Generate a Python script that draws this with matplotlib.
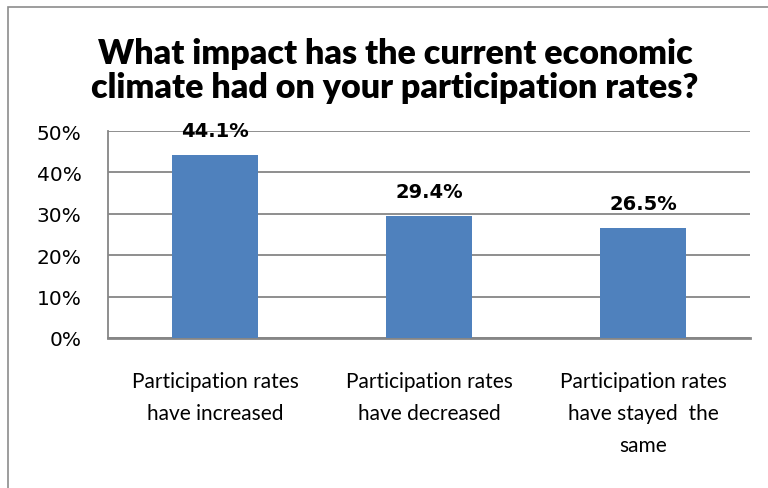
import matplotlib.pyplot as plt
from matplotlib.patches import Rectangle
from matplotlib.ticker import PercentFormatter

categorias = ["Participation rates\nhave increased",
              "Participation rates\nhave decreased",
              "Participation rates\nhave stayed  the\nsame"]
valores = [44.1, 29.4, 26.5]
ticks_y = [0, 10, 20, 30, 40, 50]

fuente = ['Lato', 'DejaVu Sans']

fig = plt.figure(figsize=(7.68, 4.89), dpi=100)
ax = fig.add_axes([108/768, 1 - 339/489, 642/768, 207/489])

# borde del grafico (recortado a la derecha y abajo)
fig.patches.append(Rectangle((8/768, -0.1), 1.0, 1 - 8/489 + 0.1,
                             transform=fig.transFigure, fill=False,
                             edgecolor='#8c8c8c', linewidth=1.2))

x = range(len(valores))
ax.bar(x, valores, width=0.4, color='#4f81bd', zorder=3)
for i, v in zip(x, valores):
    ax.text(i, v + 3.8, f"{v:.1f}%", ha='center', va='bottom',
            fontsize=14, fontweight='bold', family='DejaVu Sans')

ax.set_xlim(-0.5, 2.5)
ax.set_ylim(0, 50)
ax.set_yticks(ticks_y)
ax.yaxis.set_major_formatter(PercentFormatter(decimals=0))
ax.grid(axis='y', color='#868686', linewidth=1.3, zorder=0)
ax.set_xticks(list(x))
ax.set_xticklabels(categorias, family=fuente, fontsize=15, linespacing=1.75)
ax.tick_params(axis='x', length=0, pad=24)
ax.tick_params(axis='y', length=0, pad=19, labelsize=14.5)
for lab in ax.get_yticklabels():
    lab.set_family('DejaVu Sans')

for lado in ['top', 'right']:
    ax.spines[lado].set_visible(False)
ax.spines['left'].set_color('#868686')
ax.spines['left'].set_linewidth(1.3)
ax.spines['bottom'].set_color('#868686')
ax.spines['bottom'].set_linewidth(2)

fig.text(395/768, 1 - 71/489,
         "What impact has the current economic\nclimate had on your participation rates?",
         ha='center', va='center', fontsize=24.5, fontweight='heavy',
         family=fuente, linespacing=1.1)

fig.savefig('out.png', dpi=100)
